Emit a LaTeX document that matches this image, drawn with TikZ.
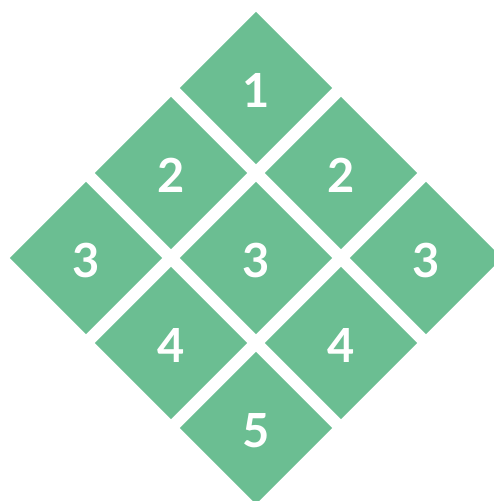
\documentclass[tikz,border=0pt]{standalone}
\usepackage{fontspec}
\setmainfont{Lato}
\definecolor{tile}{RGB}{107,190,146}
\begin{document}
\begin{tikzpicture}[x=1pt,y=-1pt,
  tilebox/.style={fill=tile,draw=none,shape=rectangle,rotate=45,minimum width=107.5pt,minimum height=107.5pt,inner sep=0pt},
  tilelabel/.style={text=white,font=\fontsize{47}{47}\selectfont\bfseries,inner sep=0pt,anchor=center}]
\useasboundingbox (0,0) rectangle (494,501);
\clip (0,0) rectangle (494,501);
\foreach \nm/\cx/\cy/\lb in {a/256/88/1, b/171/173/2, c/341/173/2, d/86/258/3, e/256/258/3, f/426/258/3, g/171/343/4, h/341/343/4, i/256/428/5}{
  \node[tilebox] (\nm) at (\cx,\cy) {};
  \node[tilelabel] (\nm l) at (\cx,\cy+2.5) {\lb};
}
\end{tikzpicture}
\end{document}
